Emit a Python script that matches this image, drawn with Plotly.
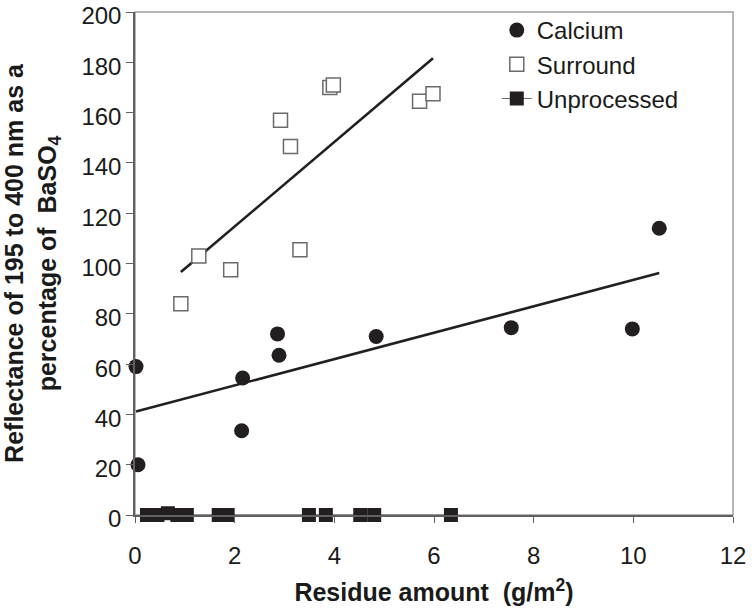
import numpy as np
import plotly.graph_objects as go

# ---- data ----
calcium_x = [0.02, 0.06, 2.16, 2.14, 2.86, 2.89, 4.84, 7.55, 9.98, 10.52]
calcium_y = [59, 20, 54.5, 33.5, 72, 63.5, 71, 74.5, 74, 114]

surround_x = [0.92, 1.28, 1.92, 2.92, 3.12, 3.31, 3.91, 3.98, 5.71, 5.98]
surround_y = [84, 103, 97.5, 157, 146.5, 105.5, 170, 171, 164.5, 167.5]

unproc_x = [0.24, 0.45, 0.66, 0.85, 1.04, 1.68, 1.86, 3.49, 3.83, 4.52, 4.80, 6.34]
unproc_y = [0, 0, 0.7, 0, 0, 0, 0, 0, 0, 0, 0, 0]

x_ticks = [0, 2, 4, 6, 8, 10, 12]
y_ticks = [0, 20, 40, 60, 80, 100, 120, 140, 160, 180, 200]

DARK = "#231f20"
FONT = "Liberation Sans, Arial, sans-serif"

def fit_line(xs, ys):
    k, b = np.polyfit(xs, ys, 1)
    xx = np.array([min(xs), max(xs)])
    return xx, k * xx + b

fig = go.Figure()

cx, cy = fit_line(calcium_x, calcium_y)
sx, sy = fit_line(surround_x, surround_y)

fig.add_trace(go.Scatter(x=cx, y=cy, mode="lines", line=dict(color=DARK, width=2.6),
                         showlegend=False, hoverinfo="skip"))
fig.add_trace(go.Scatter(x=sx, y=sy, mode="lines", line=dict(color=DARK, width=2.6),
                         showlegend=False, hoverinfo="skip"))

fig.add_trace(go.Scatter(
    x=calcium_x, y=calcium_y, mode="markers", name="Calcium",
    marker=dict(symbol="circle", size=15, color=DARK, line=dict(width=0)),
    cliponaxis=False))
fig.add_trace(go.Scatter(
    x=surround_x, y=surround_y, mode="markers", name="Surround",
    marker=dict(symbol="square", size=14, color="white", line=dict(color="#6a6a6a", width=1.5)),
    cliponaxis=False))
fig.add_trace(go.Scatter(
    x=unproc_x, y=unproc_y, mode="lines+markers", name="Unprocessed",
    line=dict(color="#6a6a6a", width=1),
    marker=dict(symbol="square", size=14, color=DARK, line=dict(width=0)),
    cliponaxis=False))

fig.update_layout(
    width=755, height=609,
    margin=dict(l=135, r=22, t=12, b=94, autoexpand=False),
    paper_bgcolor="white", plot_bgcolor="white",
    font=dict(family=FONT, size=24, color="#1a1a1a"),
    showlegend=True,
    legend=dict(x=0.605, y=1.008, xanchor="left", yanchor="top",
                font=dict(size=24, color="#1a1a1a"), bgcolor="rgba(0,0,0,0)",
                tracegroupgap=0, itemwidth=30),
    shapes=[dict(type="rect", xref="paper", yref="paper", x0=0, y0=0, x1=1, y1=1,
                 line=dict(color="#a0a0a0", width=1.5), layer="below")],
)

fig.update_xaxes(
    range=[0, 12], tickvals=x_ticks, ticktext=[str(v) for v in x_ticks],
    showgrid=False, zeroline=False, showline=True, linecolor="#606060", linewidth=1.5,
    ticks="outside", ticklen=6, tickcolor="#606060", tickwidth=1,
    ticklabelstandoff=12, ticklabeloverflow="allow", automargin=False,
    tickfont=dict(size=24),
    title=dict(text="<b>Residue amount\u00a0 (g/m<sup>2</sup>)</b>", font=dict(size=25), standoff=16),
)
fig.update_yaxes(
    range=[0, 200], tickvals=y_ticks, ticktext=[str(v) for v in y_ticks],
    showgrid=False, zeroline=False, showline=True, linecolor="#606060", linewidth=1.5,
    ticks="outside", ticklen=7, tickcolor="#606060", tickwidth=1,
    ticklabelshift=4, ticklabeloverflow="allow", automargin=False,
    tickfont=dict(size=24),
    title=dict(text="<b>Reflectance of 195 to 400 nm as a<br>percentage of\u00a0 BaSO<sub>4</sub></b>",
               font=dict(size=25), standoff=18),
)

fig.write_html("out.html", config={"displayModeBar": False},
               post_script="document.body.style.margin='0';")
